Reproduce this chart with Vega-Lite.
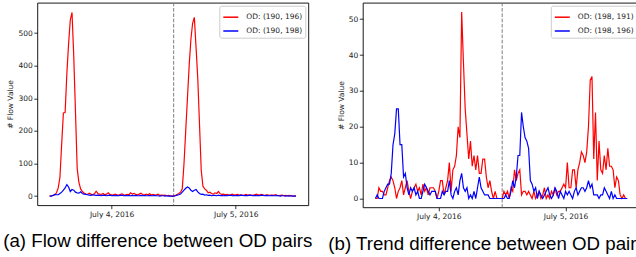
{
  "$schema": "https://vega.github.io/schema/vega-lite/v6.json",
  "autosize": {"type": "none"},
  "padding": {"left": 37.3, "top": 2.7, "right": 598.7, "bottom": 254.3},
  "data": {"values": [
    {"slot":0,"a1":0,"a2":0,"b1":0,"b2":0},
    {"slot":1,"a1":1,"a2":0,"b1":0,"b2":1},
    {"slot":2,"a1":2,"a2":2,"b1":3,"b2":0},
    {"slot":3,"a1":4,"a2":5,"b1":2,"b2":0},
    {"slot":4,"a1":10,"a2":4,"b1":2,"b2":0},
    {"slot":5,"a1":25,"a2":4,"b1":1,"b2":2},
    {"slot":6,"a1":58,"a2":8,"b1":1,"b2":3},
    {"slot":7,"a1":160,"a2":12,"b1":3,"b2":4},
    {"slot":8,"a1":255,"a2":18,"b1":5,"b2":4},
    {"slot":9,"a1":256,"a2":25,"b1":6,"b2":7},
    {"slot":10,"a1":375,"a2":35,"b1":5,"b2":15},
    {"slot":11,"a1":466,"a2":28,"b1":3,"b2":18},
    {"slot":12,"a1":540,"a2":14,"b1":0,"b2":25},
    {"slot":13,"a1":563,"a2":20,"b1":2,"b2":25},
    {"slot":14,"a1":430,"a2":18,"b1":3,"b2":15},
    {"slot":15,"a1":260,"a2":12,"b1":5,"b2":15},
    {"slot":16,"a1":85,"a2":10,"b1":1,"b2":6},
    {"slot":17,"a1":42,"a2":9,"b1":3,"b2":7},
    {"slot":18,"a1":22,"a2":13,"b1":5,"b2":3},
    {"slot":19,"a1":14,"a2":8,"b1":2,"b2":1},
    {"slot":20,"a1":9,"a2":6,"b1":0,"b2":3},
    {"slot":21,"a1":6,"a2":5,"b1":2,"b2":2},
    {"slot":22,"a1":5,"a2":4,"b1":3,"b2":3},
    {"slot":23,"a1":9,"a2":3,"b1":4,"b2":1},
    {"slot":24,"a1":6,"a2":2,"b1":2,"b2":2},
    {"slot":25,"a1":4,"a2":4,"b1":3,"b2":0},
    {"slot":26,"a1":7,"a2":3,"b1":1,"b2":0},
    {"slot":27,"a1":15,"a2":2,"b1":4,"b2":2},
    {"slot":28,"a1":8,"a2":3,"b1":2,"b2":4},
    {"slot":29,"a1":6,"a2":2,"b1":3,"b2":3},
    {"slot":30,"a1":5,"a2":1,"b1":1,"b2":2},
    {"slot":31,"a1":8,"a2":3,"b1":3,"b2":1},
    {"slot":32,"a1":4,"a2":2,"b1":3,"b2":2},
    {"slot":33,"a1":6,"a2":1,"b1":3,"b2":2},
    {"slot":34,"a1":10,"a2":2,"b1":2,"b2":2},
    {"slot":35,"a1":5,"a2":3,"b1":0,"b2":0},
    {"slot":36,"a1":4,"a2":1,"b1":2,"b2":0},
    {"slot":37,"a1":3,"a2":2,"b1":5,"b2":0},
    {"slot":38,"a1":6,"a2":1,"b1":5,"b2":2},
    {"slot":39,"a1":4,"a2":2,"b1":1,"b2":1},
    {"slot":40,"a1":3,"a2":1,"b1":3,"b2":2},
    {"slot":41,"a1":5,"a2":2,"b1":5,"b2":2},
    {"slot":42,"a1":7,"a2":3,"b1":10,"b2":5},
    {"slot":43,"a1":4,"a2":1,"b1":2,"b2":1},
    {"slot":44,"a1":3,"a2":2,"b1":8,"b2":0},
    {"slot":45,"a1":5,"a2":1,"b1":9,"b2":2},
    {"slot":46,"a1":4,"a2":2,"b1":12,"b2":3},
    {"slot":47,"a1":10,"a2":1,"b1":20,"b2":1},
    {"slot":48,"a1":6,"a2":2,"b1":17,"b2":5},
    {"slot":49,"a1":8,"a2":1,"b1":52,"b2":7},
    {"slot":50,"a1":5,"a2":2,"b1":38,"b2":3},
    {"slot":51,"a1":4,"a2":1,"b1":25,"b2":2},
    {"slot":52,"a1":6,"a2":1,"b1":18,"b2":3},
    {"slot":53,"a1":9,"a2":2,"b1":11,"b2":0},
    {"slot":54,"a1":5,"a2":1,"b1":16,"b2":1},
    {"slot":55,"a1":3,"a2":2,"b1":9,"b2":0},
    {"slot":56,"a1":6,"a2":1,"b1":12,"b2":2},
    {"slot":57,"a1":4,"a2":1,"b1":8,"b2":0},
    {"slot":58,"a1":7,"a2":2,"b1":12,"b2":3},
    {"slot":59,"a1":3,"a2":1,"b1":7,"b2":6},
    {"slot":60,"a1":5,"a2":1,"b1":7,"b2":3},
    {"slot":61,"a1":3,"a2":2,"b1":11,"b2":2},
    {"slot":62,"a1":4,"a2":1,"b1":11,"b2":1},
    {"slot":63,"a1":6,"a2":1,"b1":6,"b2":1},
    {"slot":64,"a1":2,"a2":0,"b1":3,"b2":1},
    {"slot":65,"a1":3,"a2":1,"b1":5,"b2":0},
    {"slot":66,"a1":2,"a2":1,"b1":2,"b2":0},
    {"slot":67,"a1":3,"a2":0,"b1":0,"b2":0},
    {"slot":68,"a1":1,"a2":1,"b1":2,"b2":0},
    {"slot":69,"a1":2,"a2":0,"b1":0,"b2":0},
    {"slot":70,"a1":1,"a2":0,"b1":0,"b2":0},
    {"slot":71,"a1":0,"a2":0,"b1":0,"b2":0},
    {"slot":72,"a1":0,"a2":0,"b1":0,"b2":0},
    {"slot":73,"a1":2,"a2":1,"b1":2,"b2":0},
    {"slot":74,"a1":5,"a2":3,"b1":1,"b2":1},
    {"slot":75,"a1":8,"a2":4,"b1":2,"b2":0},
    {"slot":76,"a1":12,"a2":6,"b1":0,"b2":0},
    {"slot":77,"a1":22,"a2":12,"b1":3,"b2":2},
    {"slot":78,"a1":99,"a2":18,"b1":2,"b2":5},
    {"slot":79,"a1":200,"a2":24,"b1":8,"b2":3},
    {"slot":80,"a1":300,"a2":28,"b1":5,"b2":6},
    {"slot":81,"a1":400,"a2":25,"b1":7,"b2":12},
    {"slot":82,"a1":480,"a2":18,"b1":8,"b2":12},
    {"slot":83,"a1":530,"a2":14,"b1":1,"b2":24},
    {"slot":84,"a1":548,"a2":18,"b1":2,"b2":20},
    {"slot":85,"a1":456,"a2":20,"b1":2,"b2":17},
    {"slot":86,"a1":360,"a2":13,"b1":1,"b2":16},
    {"slot":87,"a1":220,"a2":8,"b1":2,"b2":14},
    {"slot":88,"a1":79,"a2":5,"b1":1,"b2":5},
    {"slot":89,"a1":30,"a2":6,"b1":0,"b2":4},
    {"slot":90,"a1":22,"a2":3,"b1":2,"b2":2},
    {"slot":91,"a1":18,"a2":4,"b1":0,"b2":3},
    {"slot":92,"a1":10,"a2":2,"b1":1,"b2":0},
    {"slot":93,"a1":12,"a2":3,"b1":2,"b2":2},
    {"slot":94,"a1":8,"a2":1,"b1":0,"b2":1},
    {"slot":95,"a1":6,"a2":2,"b1":1,"b2":0},
    {"slot":96,"a1":10,"a2":2,"b1":3,"b2":1},
    {"slot":97,"a1":8,"a2":1,"b1":0,"b2":2},
    {"slot":98,"a1":14,"a2":3,"b1":1,"b2":3},
    {"slot":99,"a1":7,"a2":1,"b1":0,"b2":1},
    {"slot":100,"a1":5,"a2":2,"b1":2,"b2":0},
    {"slot":101,"a1":6,"a2":1,"b1":1,"b2":1},
    {"slot":102,"a1":4,"a2":2,"b1":3,"b2":3},
    {"slot":103,"a1":5,"a2":1,"b1":1,"b2":2},
    {"slot":104,"a1":3,"a2":2,"b1":2,"b2":0},
    {"slot":105,"a1":4,"a2":3,"b1":2,"b2":2},
    {"slot":106,"a1":6,"a2":1,"b1":3,"b2":1},
    {"slot":107,"a1":3,"a2":2,"b1":4,"b2":0},
    {"slot":108,"a1":4,"a2":1,"b1":3,"b2":2},
    {"slot":109,"a1":5,"a2":2,"b1":10,"b2":1},
    {"slot":110,"a1":3,"a2":1,"b1":3,"b2":2},
    {"slot":111,"a1":4,"a2":3,"b1":3,"b2":1},
    {"slot":112,"a1":2,"a2":2,"b1":8,"b2":0},
    {"slot":113,"a1":3,"a2":1,"b1":8,"b2":2},
    {"slot":114,"a1":5,"a2":2,"b1":3,"b2":3},
    {"slot":115,"a1":3,"a2":1,"b1":8,"b2":1},
    {"slot":116,"a1":4,"a2":3,"b1":10,"b2":2},
    {"slot":117,"a1":2,"a2":2,"b1":13,"b2":3},
    {"slot":118,"a1":3,"a2":1,"b1":12,"b2":3},
    {"slot":119,"a1":4,"a2":2,"b1":10,"b2":2},
    {"slot":120,"a1":6,"a2":1,"b1":13,"b2":3},
    {"slot":121,"a1":3,"a2":2,"b1":20,"b2":5},
    {"slot":122,"a1":4,"a2":1,"b1":33,"b2":3},
    {"slot":123,"a1":5,"a2":3,"b1":34,"b2":4},
    {"slot":124,"a1":3,"a2":2,"b1":11,"b2":1},
    {"slot":125,"a1":2,"a2":1,"b1":24,"b2":1},
    {"slot":126,"a1":4,"a2":2,"b1":5,"b2":1},
    {"slot":127,"a1":3,"a2":1,"b1":16,"b2":0},
    {"slot":128,"a1":2,"a2":1,"b1":8,"b2":1},
    {"slot":129,"a1":3,"a2":2,"b1":7,"b2":1},
    {"slot":130,"a1":2,"a2":1,"b1":12,"b2":3},
    {"slot":131,"a1":4,"a2":1,"b1":8,"b2":2},
    {"slot":132,"a1":2,"a2":2,"b1":14,"b2":1},
    {"slot":133,"a1":1,"a2":1,"b1":9,"b2":0},
    {"slot":134,"a1":2,"a2":0,"b1":9,"b2":2},
    {"slot":135,"a1":3,"a2":1,"b1":8,"b2":0},
    {"slot":136,"a1":1,"a2":1,"b1":3,"b2":1},
    {"slot":137,"a1":2,"a2":0,"b1":6,"b2":0},
    {"slot":138,"a1":1,"a2":1,"b1":5,"b2":0},
    {"slot":139,"a1":2,"a2":0,"b1":1,"b2":0},
    {"slot":140,"a1":1,"a2":1,"b1":0,"b2":0},
    {"slot":141,"a1":0,"a2":0,"b1":1,"b2":0},
    {"slot":142,"a1":1,"a2":0,"b1":0,"b2":0},
    {"slot":143,"a1":0,"a2":0,"b1":0,"b2":0}
  ]},
  "spacing": 8.5,
  "hconcat": [
    {
      "width": 271,
      "height": 202.5,
      "title": {"text": " ", "fontSize": 1, "offset": 1.6, "orient": "top"},
      "layer": [
        {
          "data": {"values": [{}]},
          "mark": {"type": "rule", "color": "#7f7f7f", "strokeDash": [3.7, 1.6], "strokeWidth": 1},
          "encoding": {"x": {"datum": 72, "type": "quantitative"}}
        },
        {
          "transform": [{"fold": ["a1", "a2"], "as": ["series", "value"]}],
          "mark": {"type": "line", "strokeWidth": 1.2, "clip": true},
          "encoding": {
            "x": {"field": "slot", "type": "quantitative",
                  "scale": {"domain": [-7.15, 150.15], "nice": false, "zero": false},
                  "axis": {"values": [36, 108],
                           "labelExpr": "datum.value == 36 ? 'July 4, 2016' : 'July 5, 2016'",
                           "title": "(a)  Flow difference between OD pairs",
                           "titleX": -34.6, "titleY": 41}},
            "y": {"field": "value", "type": "quantitative",
                  "scale": {"domain": [-28, 593], "nice": false},
                  "axis": {"values": [0, 100, 200, 300, 400, 500], "title": "# Flow Value"}},
            "color": {"field": "series", "type": "nominal",
                      "scale": {"domain": ["a1", "a2"], "range": ["#ff0000", "#0000ff"]},
                      "legend": {"title": null, "labelExpr": "datum.label == 'a1' ? 'OD: (190, 196)' : 'OD: (190, 198)'"}}
          }
        }
      ]
    },
    {
      "width": 277,
      "height": 204.6,
      "layer": [
        {
          "data": {"values": [{}]},
          "mark": {"type": "rule", "color": "#7f7f7f", "strokeDash": [3.7, 1.6], "strokeWidth": 1},
          "encoding": {"x": {"datum": 72, "type": "quantitative"}}
        },
        {
          "transform": [{"fold": ["b1", "b2"], "as": ["series", "value"]}],
          "mark": {"type": "line", "strokeWidth": 1.2, "clip": true},
          "encoding": {
            "x": {"field": "slot", "type": "quantitative",
                  "scale": {"domain": [-7.15, 150.15], "nice": false, "zero": false},
                  "axis": {"values": [36, 108],
                           "labelExpr": "datum.value == 36 ? 'July 4, 2016' : 'July 5, 2016'",
                           "title": "(b)  Trend difference between OD pairs",
                           "titleX": -35, "titleY": 41.7}},
            "y": {"field": "value", "type": "quantitative",
                  "scale": {"domain": [-2.45, 54.6], "nice": false},
                  "axis": {"values": [0, 10, 20, 30, 40, 50], "title": "# Flow Value"}},
            "color": {"field": "series", "type": "nominal",
                      "scale": {"domain": ["b1", "b2"], "range": ["#ff0000", "#0000ff"]},
                      "legend": {"title": null, "labelExpr": "datum.label == 'b1' ? 'OD: (198, 191)' : 'OD: (198, 196)'"}}
          }
        }
      ]
    }
  ],
  "resolve": {"scale": {"color": "independent"}},
  "config": {
    "background": "#ffffff",
    "view": {"stroke": "#000000", "strokeWidth": 0.9},
    "axis": {"grid": false, "domain": false, "tickColor": "#000000", "tickSize": 3.5, "tickWidth": 0.8,
             "labelFont": "DejaVu Sans", "labelFontSize": 7.5, "labelColor": "#222222", "labelPadding": 1.5,
             "titleFont": "DejaVu Sans", "titleFontSize": 7.5, "titleFontWeight": "normal", "titleColor": "#222222", "titlePadding": 3},
    "axisX": {"titleFont": "Liberation Sans", "titleFontSize": 18.7, "titleColor": "#000000", "titleAlign": "left", "titleBaseline": "alphabetic"},
    "legend": {"orient": "top-right", "offset": 3, "padding": 3, "strokeColor": "#cccccc", "fillColor": "rgba(255,255,255,0.8)",
               "cornerRadius": 2, "symbolType": "stroke", "symbolStrokeWidth": 1.5, "symbolSize": 225,
               "labelFont": "DejaVu Sans", "labelFontSize": 7.5, "labelColor": "#222222", "rowPadding": 1.8, "labelOffset": 7}
  }
}
